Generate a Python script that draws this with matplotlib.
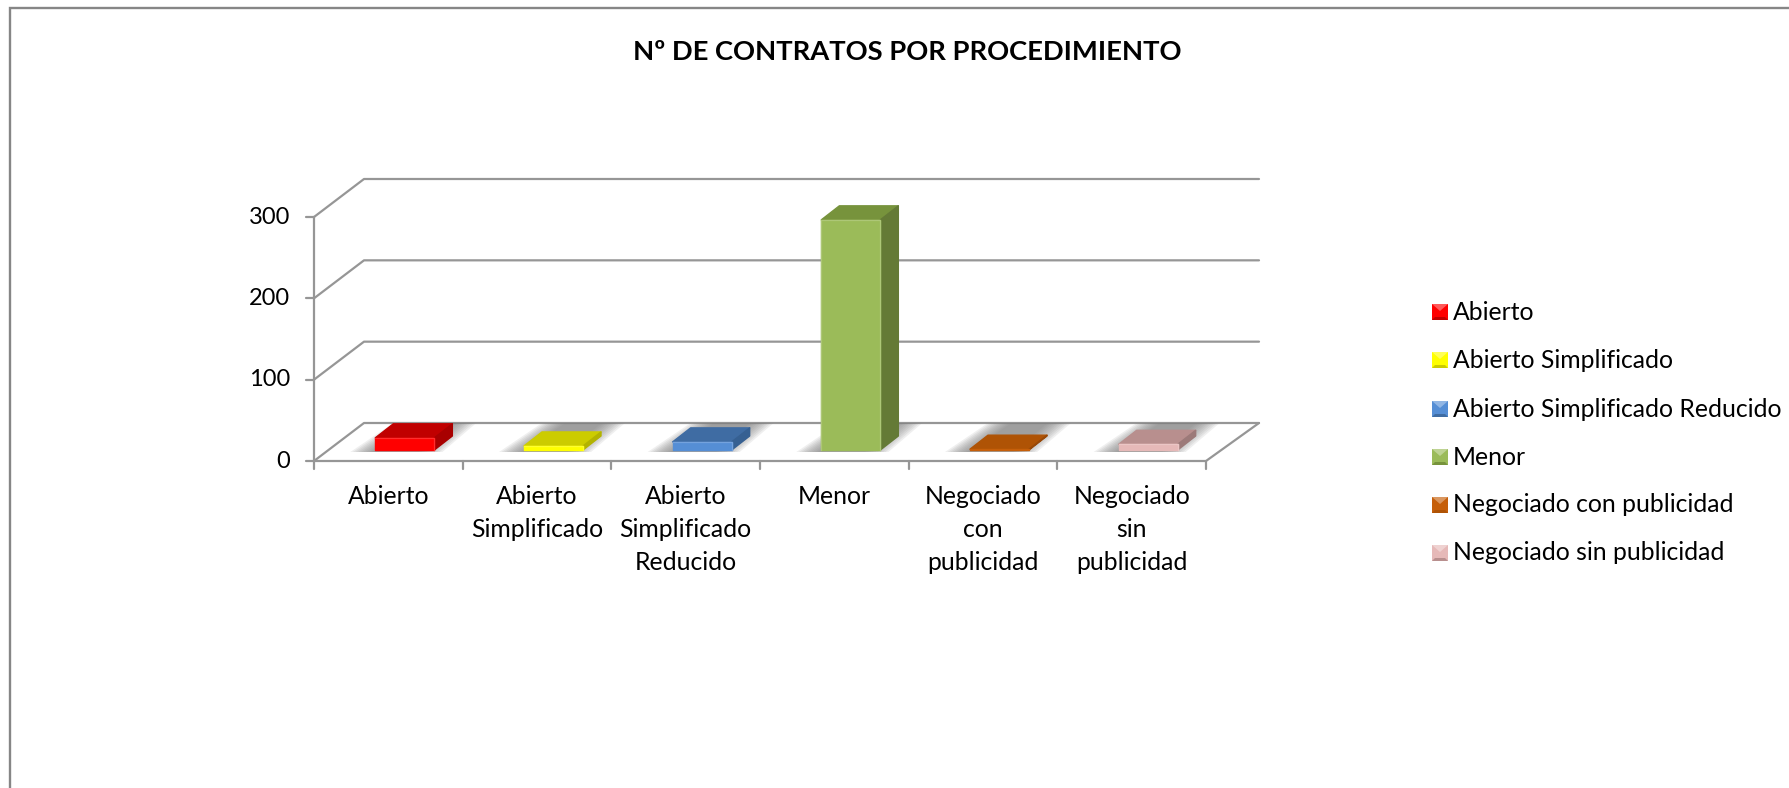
import matplotlib
matplotlib.use("Agg")
import matplotlib.pyplot as plt
from matplotlib.colors import to_rgb
from matplotlib.patches import Polygon, Rectangle

plt.rcParams['font.family'] = ['Lato', 'DejaVu Sans']

# datos
categorias = ["Abierto", "Abierto\nSimplificado", "Abierto\nSimplificado\nReducido",
              "Menor", "Negociado\ncon\npublicidad", "Negociado\nsin\npublicidad"]
leyenda = ["Abierto", "Abierto Simplificado", "Abierto Simplificado Reducido",
           "Menor", "Negociado con publicidad", "Negociado sin publicidad"]
valores = [15, 5, 10, 283, 1, 7]
y_ticks = [0, 100, 200, 300]

# colores: frente, arriba, lado
frente = ["#FF0000", "#FFFF00", "#558ED5", "#9BBB59", "#C65F0A", "#E6B9B8"]
arriba = ["#C00000", "#CCCC00", "#3F6CA3", "#77933C", "#AF5305", "#B88F8E"]
lado = ["#A80000", "#B3B300", "#366092", "#647A36", "#984807", "#9C7A79"]
gris = "#969696"


def aclarar(c, f=0.35):
    return tuple(v + (1 - v) * f for v in to_rgb(c))


W, H = 1789, 788
fig = plt.figure(figsize=(W / 100, H / 100), dpi=100, facecolor="white")

# capa en pixeles para el marco y la leyenda
bg = fig.add_axes([0, 0, 1, 1])
bg.set_xlim(0, W)
bg.set_ylim(H, 0)
bg.axis("off")
bg.plot([10, 10, W], [H, 8.3, 8.3], color="#868686", lw=1.7, solid_joinstyle="miter")

# ejes: x 314..1206 px, y 461..217 px
x0, x1, y0, y1 = 314, 1206, 461, 217
ax = fig.add_axes([x0 / W, 1 - y0 / H, (x1 - x0) / W, (y0 - y1) / H])
ax.set_xlim(0, len(valores))
ax.set_ylim(0, 300)
ax.axis("off")
px = len(valores) / (x1 - x0)
py = 300 / (y0 - y1)
wall_dx, wall_dy = 50 * px, 38 * py
line = dict(color=gris, lw=1.6, clip_on=False, zorder=1, solid_capstyle="round")

for v in y_ticks:
    ax.plot([0, wall_dx, 6 + 53 * px], [v, v + wall_dy, v + wall_dy], **line)
    ax.plot([-8 * px, 0], [v, v], **line)
ax.plot([0, 0], [0, 300], **line)
ax.plot([0, 6, 6 + 53 * px], [0, 0, wall_dy], **line)
for i in range(len(valores) + 1):
    ax.plot([i, i], [0, -8 * py], **line)

for v in y_ticks:
    ax.text(-24 * px, v, str(v), ha="right", va="center", fontsize=17, color="black", clip_on=False)
for i, c in enumerate(categorias):
    ax.text(i + 0.5, -24 * py, c, ha="center", va="top", fontsize=17.8, color="black",
            linespacing=1.53, clip_on=False)

# barras con falso 3D
bw = 59 * px
dx, dy = 18 * px, 14 * py
base = 11 * py
for i, v in enumerate(valores):
    l = i + 0.5 + 16.5 * px - bw / 2
    r = l + bw
    # sombra difuminada hacia los lados
    sb, st = 9 * py, 38 * py
    for k in range(10):
        ins = (k * 2.6) * px
        ax.add_patch(Polygon([(l - 25 * px + ins, sb), (r + 8 * px - ins, sb),
                              (r + 42 * px - ins, st), (l + 18 * px + ins, st)],
                             closed=True, fc="#7f7f7f", ec="none", alpha=0.12, zorder=2,
                             clip_on=False))
    b, t = base, base + v
    ax.add_patch(Polygon([(l, t), (r, t), (r + dx, t + dy), (l + dx, t + dy)], closed=True,
                         fc=arriba[i], ec=arriba[i], lw=1.0, joinstyle="round", zorder=3,
                         clip_on=False))
    ax.add_patch(Polygon([(r, b), (r + dx, b + dy), (r + dx, t + dy), (r, t)], closed=True,
                         fc=lado[i], ec=lado[i], lw=1.0, joinstyle="round", zorder=3,
                         clip_on=False))
    ax.add_patch(Polygon([(l, b), (r, b), (r, t), (l, t)], closed=True,
                         fc=frente[i], ec=frente[i], lw=1.0, joinstyle="round", zorder=4,
                         clip_on=False))
    # borde biselado claro
    if v > 2:
        ax.plot([l, r, r], [t, t, b], color=aclarar(frente[i], 0.18), lw=0.9, zorder=5, clip_on=False)
    if v > 30:
        ax.plot([l, l], [b, t], color=aclarar(frente[i], 0.18), lw=0.9, zorder=5, clip_on=False)

fig.text(907 / W, 1 - 52.5 / H, "Nº DE CONTRATOS POR PROCEDIMIENTO", ha="center", va="center",
         fontsize=19.7, fontweight="bold", color="black")

# leyenda manual
ly = [312, 360, 409, 457, 505, 553]
for f, a, s, nombre, y in zip(frente, arriba, lado, leyenda, ly):
    sx, sy, sz = 1432, y - 8, 16
    bg.add_patch(Rectangle((sx, sy), sz, sz, fc=f, ec="none"))
    bg.add_patch(Polygon([(sx, sy), (sx + sz, sy), (sx + sz / 2, sy + 7)], closed=True,
                         fc=aclarar(f), ec="none"))
    bg.add_patch(Polygon([(sx, sy + sz), (sx + sz, sy + sz), (sx + sz - 3, sy + sz - 3), (sx + 3, sy + sz - 3)],
                         closed=True, fc=a, ec="none"))
    bg.text(1453, y, nombre, ha="left", va="center", fontsize=17.8, color="black")

fig.savefig("out.png", dpi=100, facecolor="white")
